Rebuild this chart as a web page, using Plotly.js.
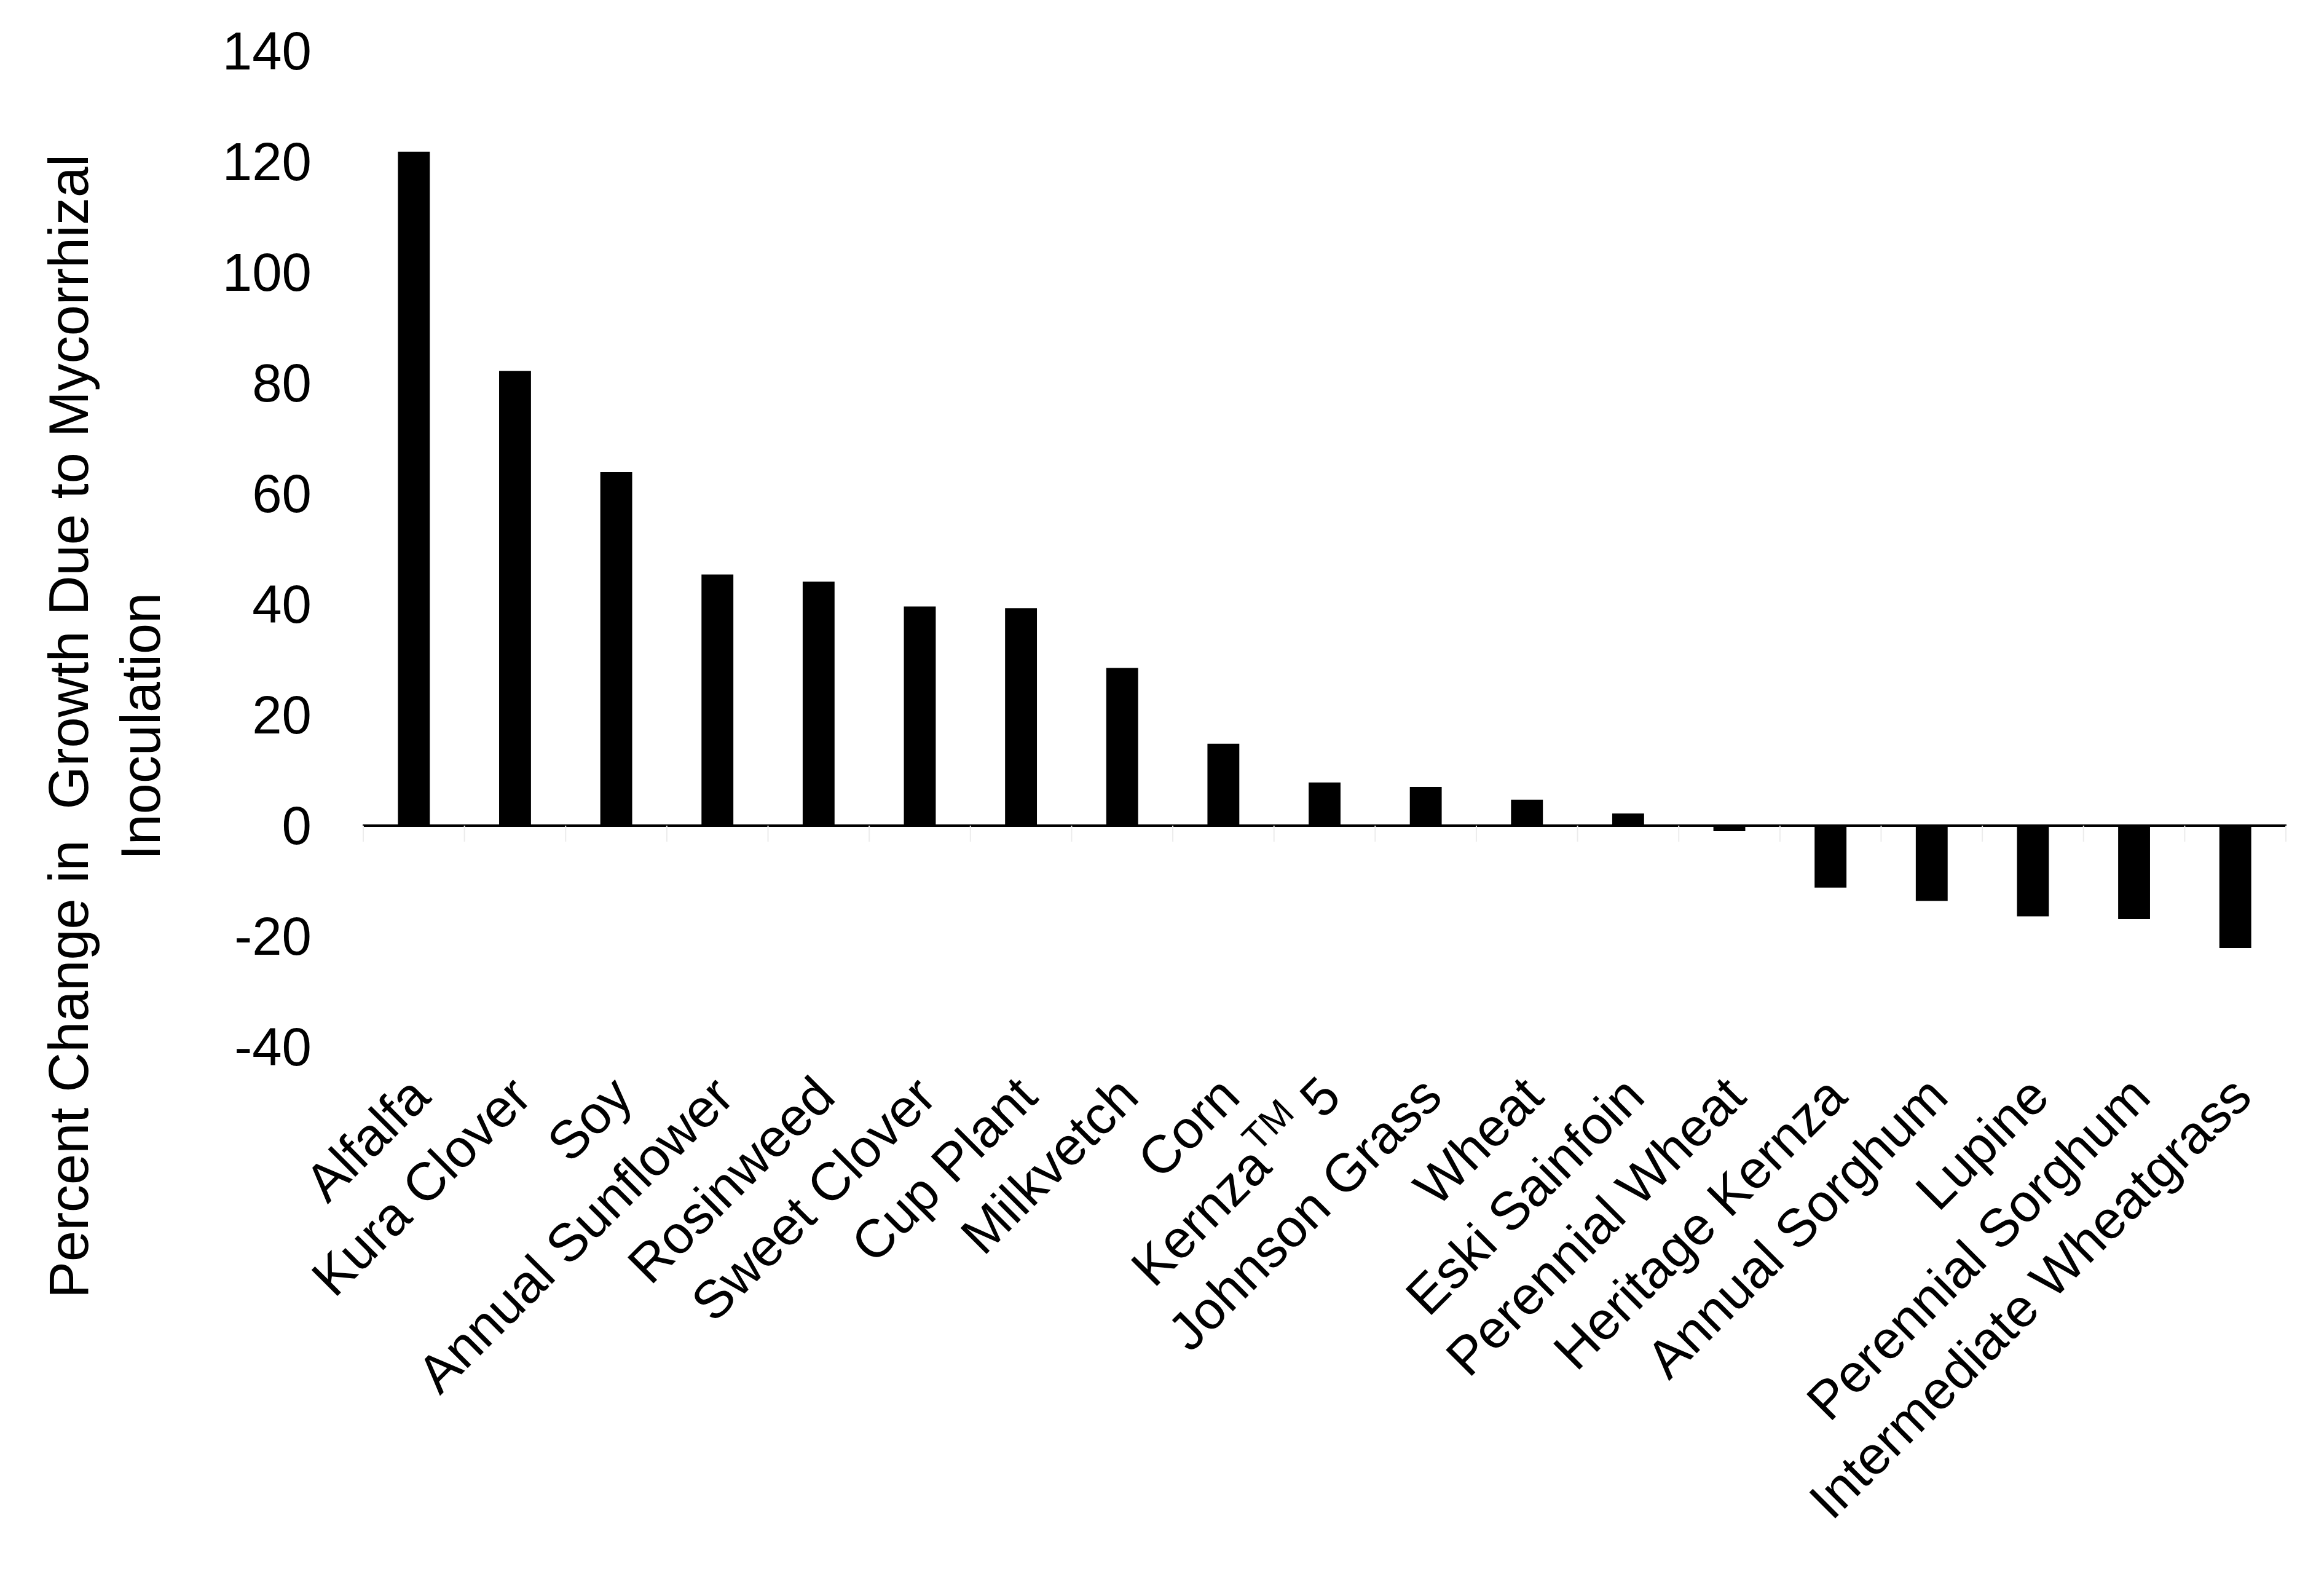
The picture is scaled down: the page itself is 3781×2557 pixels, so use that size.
<!DOCTYPE html>
<html>
<head>
<meta charset="utf-8">
<script src="https://cdn.plot.ly/plotly-3.0.1.min.js"></script>
<style>html,body{margin:0;padding:0;background:#fff;}</style>
</head>
<body>
<div id="chart" style="width:3781px;height:2557px;"></div>
<script>
const categories = ["Alfalfa", "Kura Clover", "Soy", "Annual Sunflower", "Rosinweed", "Sweet Clover",
  "Cup Plant", "Milkvetch", "Corn", "Kernza<sup>TM</sup> 5", "Johnson Grass", "Wheat", "Eski Sainfoin",
  "Perennial Wheat", "Heritage Kernza", "Annual Sorghum", "Lupine", "Perennial Sorghum", "Intermediate Wheatgrass"];
const percentChange = [121.8, 82.2, 63.9, 45.4, 44.1, 39.6, 39.3, 28.5, 14.8, 7.8, 7.0, 4.7, 2.2,
  -1.0, -11.2, -13.6, -16.4, -16.9, -22.1];
const yTickValues = [-40, -20, 0, 20, 40, 60, 80, 100, 120, 140];
const yTitleLine1 = "Percent Change in  Growth Due to Mycorrhizal";
const yTitleLine2 = "Inoculation";

const FONT = "Liberation Sans, Arial, sans-serif";

// faint boundary ticks under the zero line
const tickShapes = [];
for (let i = 0; i <= categories.length; i++) {
  tickShapes.push({
    type: "line", xref: "x", yref: "y",
    x0: i - 0.5, x1: i - 0.5, y0: 0, y1: -2.9,
    line: {color: "#ececec", width: 2}
  });
}

const trace = {
  type: "bar",
  x: categories,
  y: percentChange,
  marker: {color: "#000000", line: {width: 0}},
  hoverinfo: "x+y"
};

const layout = {
  width: 3781, height: 2557,
  margin: {l: 590, r: 61, t: 83, b: 854, pad: 0},
  paper_bgcolor: "#ffffff", plot_bgcolor: "#ffffff",
  showlegend: false,
  bargap: 0.685,
  font: {family: FONT, size: 86, color: "#000000"},
  xaxis: {
    type: "category",
    tickangle: -45,
    ticks: "",
    showgrid: false,
    showline: false,
    zeroline: false,
    tickfont: {family: FONT, size: 87, color: "#000000"},
    ticklabelstandoff: 10,
    automargin: false
  },
  yaxis: {
    range: [-40, 140],
    tickvals: yTickValues,
    ticktext: yTickValues.map(String),
    ticks: "",
    showgrid: false,
    showline: false,
    zeroline: true,
    zerolinecolor: "#000000",
    zerolinewidth: 4,
    tickfont: {family: FONT, size: 87, color: "#000000"},
    ticklabelstandoff: 82,
    automargin: false
  },
  shapes: tickShapes,
  annotations: [{
    xref: "paper", yref: "paper",
    x: -0.134, y: 0.322,
    xanchor: "center", yanchor: "middle",
    textangle: -90,
    align: "center",
    showarrow: false,
    text: yTitleLine1 + "<br>" + yTitleLine2,
    font: {family: FONT, size: 90, color: "#000000"}
  }]
};

Plotly.newPlot("chart", [trace], layout, {staticPlot: true, displayModeBar: false});
</script>
</body>
</html>
